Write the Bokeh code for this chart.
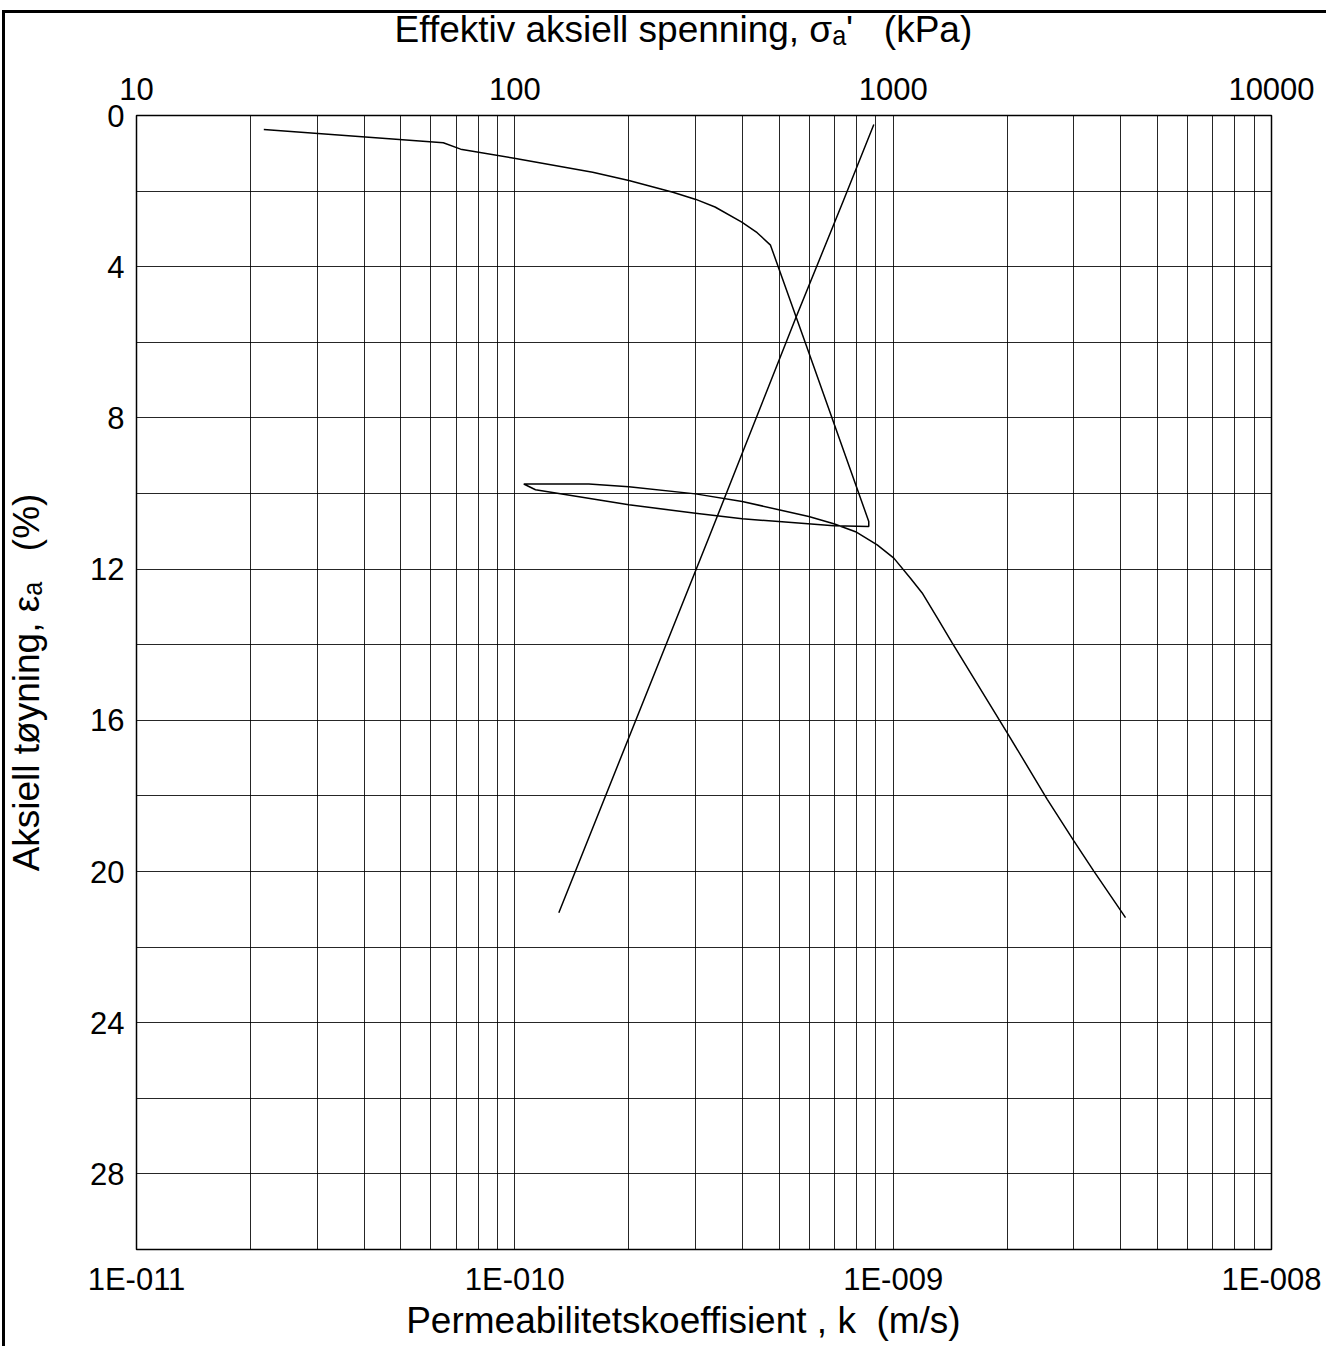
from bokeh.plotting import figure
from bokeh.models import Range1d, LogScale, LogAxis, FixedTicker, CustomJSTickFormatter
from bokeh.embed import file_html
from bokeh.resources import INLINE

# Stress-strain curve (top axis: effective axial stress, kPa)
stress_kpa = [21.7, 64.7, 71.9, 99.6, 160.6, 200.2, 261.7, 301.0, 338.2, 398.0, 437.0, 474.0,
              597.4, 862.0, 862.0,
              696.7, 498.5, 399.0, 300.3, 200.1, 113.4, 105.6,
              156.9, 200.1, 300.3, 399.0, 498.5, 598.4, 696.7, 795.3, 907.4, 1004, 1111,
              1193, 1308, 1432, 2002, 2554, 3003, 3391, 4113]
strain_stress = [0.37, 0.72, 0.89, 1.13, 1.50, 1.72, 2.03, 2.22, 2.42, 2.82, 3.10, 3.43,
                 6.25, 10.74, 10.87,
                 10.85, 10.74, 10.67, 10.52, 10.30, 9.90, 9.75,
                 9.75, 9.82, 10.01, 10.21, 10.43, 10.61, 10.80, 11.01, 11.36, 11.71, 12.24,
                 12.63, 13.29, 13.95, 16.33, 18.09, 19.19, 19.99, 21.22]

# Permeability vs strain (bottom axis: k, m/s)
perm_k = [8.89e-10, 7.39e-10, 5.52e-10, 3.95e-10, 3.25e-10, 1.307e-10]
strain_perm = [0.24, 2.25, 5.37, 9.05, 11.19, 21.09]

k_ticks = [1e-11, 1e-10, 1e-9, 1e-8]
k_minor = [m * 10.0 ** e for e in (-11, -10, -9) for m in range(2, 10)]
sigma_ticks = [10, 100, 1000, 10000]
strain_ticks = [0, 4, 8, 12, 16, 20, 24, 28]
strain_minor = [2, 6, 10, 14, 18, 22, 26, 30]

NB = "\u00a0"
top_title = "Effektiv aksiell spenning, σₐ'" + NB * 3 + "(kPa)" + NB * 4
bottom_title = "Permeabilitetskoeffisient , k" + NB * 2 + "(m/s)" + NB * 4
left_title = "Aksiell tøyning, εₐ" + NB * 3 + "(%)"

FONT = "Liberation Sans"

p = figure(width=1326, height=1346, x_axis_type="log",
           x_range=Range1d(1e-11, 1e-8), y_range=Range1d(30, 0),
           output_backend="svg", toolbar_location=None,
           min_border_left=136, min_border_right=55, min_border_top=115, min_border_bottom=97)
# outer page frame (left and top edges) drawn behind a transparent border area
p.styles = {"box-shadow": "inset 2px 0 0 0 white, inset 0 10px 0 0 white, "
                          "inset 5px 0 0 0 black, inset 0 13px 0 0 black",
            "background-color": "white"}

p.extra_x_ranges = {"sigma": Range1d(10, 10000)}
p.extra_x_scales = {"sigma": LogScale()}

top = LogAxis(x_range_name="sigma")
top.ticker = FixedTicker(ticks=sigma_ticks, minor_ticks=[])
top.formatter = CustomJSTickFormatter(code="return tick.toFixed(0);")
top.axis_label = top_title
p.add_layout(top, "above")

for ax in p.below:
    ax.ticker = FixedTicker(ticks=k_ticks, minor_ticks=k_minor)
    ax.formatter = CustomJSTickFormatter(code="""
        const e = Math.round(Math.log10(tick));
        const s = String(Math.abs(e)).padStart(3, '0');
        return '1E' + (e < 0 ? '-' : '') + s;""")
    ax.axis_label = bottom_title
    ax.major_label_standoff = 6
    ax.axis_label_standoff = 0

for ax in p.left:
    ax.ticker = FixedTicker(ticks=strain_ticks, minor_ticks=strain_minor)
    ax.axis_label = left_title
    ax.major_label_standoff = 6
    ax.axis_label_standoff = 40

top.major_label_standoff = 10
top.axis_label_standoff = 25

for ax in list(p.below) + list(p.left) + [top]:
    ax.major_tick_line_color = None
    ax.minor_tick_line_color = None
    ax.axis_line_color = None
    ax.major_label_text_font = FONT
    ax.major_label_text_font_size = "31px"
    ax.major_label_text_color = "black"
    ax.axis_label_text_font = FONT
    ax.axis_label_text_font_size = "37px"
    ax.axis_label_text_font_style = "normal"
    ax.axis_label_text_color = "black"
top.axis_label_text_line_height = 0.8

p.xgrid.grid_line_color = "black"
p.xgrid.grid_line_alpha = 0.85
p.xgrid.minor_grid_line_color = "black"
p.xgrid.minor_grid_line_alpha = 0.85
p.ygrid.grid_line_color = "black"
p.ygrid.grid_line_alpha = 0.85
p.ygrid.minor_grid_line_color = "black"
p.ygrid.minor_grid_line_alpha = 0.85

p.outline_line_color = "black"
p.outline_line_width = 1.5
p.outline_line_alpha = 1
p.background_fill_color = "white"
p.border_fill_color = "white"
p.border_fill_alpha = 0

p.line(stress_kpa, strain_stress, x_range_name="sigma", line_color="black", line_width=1.5)
p.line(perm_k, strain_perm, line_color="black", line_width=1.5)

open("out.html", "w").write(file_html(p, INLINE))
